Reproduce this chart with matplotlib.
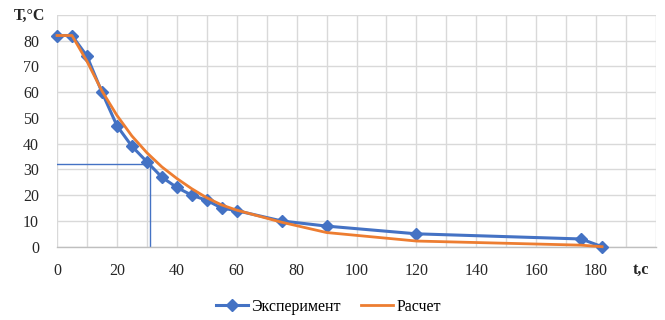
import matplotlib
matplotlib.use("Agg")
import matplotlib.pyplot as plt
import numpy as np

# Experimental cooling curve and calculated curve
t_exp = [0, 5, 10, 15, 20, 25, 30, 35, 40, 45, 50, 55, 60, 75, 90, 120, 175, 182]
T_exp = [82, 82, 74, 60, 47, 39, 33, 27, 23, 20, 18, 15, 14, 10, 8, 5, 3, 0]

t_calc = [0, 5, 10, 15, 20, 25, 30, 35, 40, 45, 50, 55, 60, 75, 90, 120, 175, 182]
T_calc = [82, 82, 72, 60.5, 51, 43, 36.5, 31, 26.5, 22.5, 19, 16.2, 14.2, 9.5, 5.5, 2.2, 0.6, 0]

# reading point on the experimental curve
t_mark = 31
T_mark = 32.3

x_ticks = [0, 20, 40, 60, 80, 100, 120, 140, 160, 180]
y_ticks = [0, 10, 20, 30, 40, 50, 60, 70, 80]

BLUE = "#4472C4"
ORANGE = "#ED7D31"
GRID = "#D9D9D9"
TEXT = "#262626"
FS = 11.5

plt.rcParams["font.family"] = ["Liberation Serif", "DejaVu Serif"]

fig = plt.figure(figsize=(6.65, 3.2), dpi=100)
ax = fig.add_axes([57 / 665, 1 - 246.7 / 320, 599 / 665, 231.8 / 320])

ax.set_xlim(0, 200)
ax.set_ylim(0, 90)
ax.set_xticks(np.arange(0, 201, 10))
ax.set_yticks(np.arange(0, 91, 10))
ax.grid(True, color=GRID, linewidth=1.0, zorder=0)
ax.set_axisbelow(True)

ax.set_xticklabels([str(v) if v in x_ticks else "" for v in range(0, 201, 10)])
ax.set_yticklabels([str(v) if v in y_ticks else "" for v in range(0, 91, 10)])
ax.tick_params(length=0, labelsize=FS, colors=TEXT)
ax.tick_params(axis="x", pad=12)
ax.tick_params(axis="y", pad=13)

for side in ["top", "right", "left"]:
    ax.spines[side].set_visible(False)
ax.spines["bottom"].set_color("#BFBFBF")
ax.spines["bottom"].set_linewidth(1.0)

ax.plot([0, t_mark], [T_mark, T_mark], color=BLUE, linewidth=1.0, zorder=2)
ax.plot([t_mark, t_mark], [0, T_mark], color=BLUE, linewidth=1.0, zorder=2)

ax.plot(t_exp, T_exp, color=BLUE, linewidth=2.2, marker="D", markersize=6,
        label="Эксперимент", zorder=3, clip_on=False)
ax.plot(t_calc, T_calc, color=ORANGE, linewidth=2.0, label="Расчет", zorder=4,
        clip_on=False)

fig.text(45 / 665, 1 - 16 / 320, "T,°C", ha="right", va="center",
         fontsize=FS, fontweight="bold", color=TEXT)
fig.text(641 / 665, 1 - 270 / 320, "t,c", ha="center", va="center",
         fontsize=FS, fontweight="bold", color=TEXT)

fig.legend(loc="center", bbox_to_anchor=(0.494, 1 - 307 / 320), ncol=2,
           frameon=False, fontsize=FS, handlelength=2.0, columnspacing=1.3,
           handletextpad=0.2)

fig.savefig("out.png", dpi=100)
